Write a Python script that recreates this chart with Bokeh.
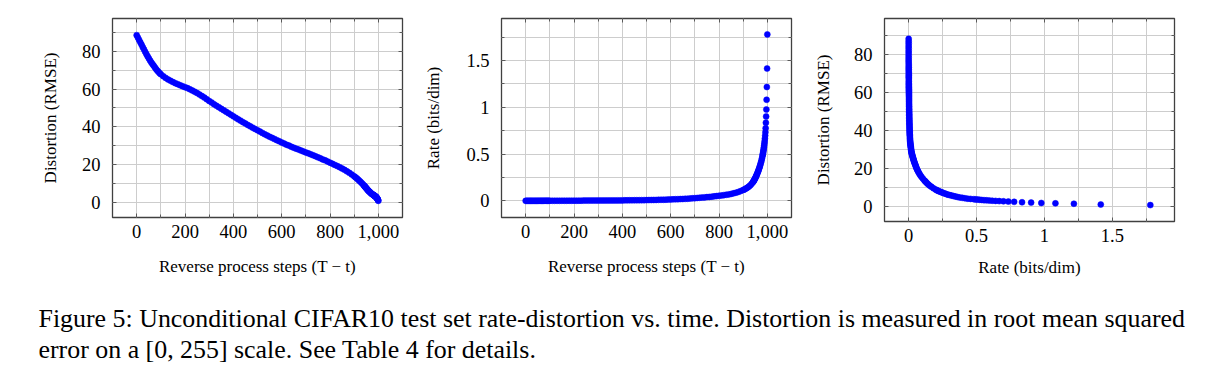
from bokeh.plotting import figure
from bokeh.layouts import row, column
from bokeh.models import (Range1d, FixedTicker, NumeralTickFormatter, LinearAxis,
                          CustomJSTickFormatter, Label)
from bokeh.embed import file_html
from bokeh.resources import INLINE

# ---------------- data ----------------
steps = [0, 5, 10, 15, 20, 25, 30, 35, 40, 45, 50, 55, 60, 65, 70, 75, 80, 85, 90, 95, 100,
         110, 120, 130, 140, 150, 160, 170, 180, 190, 200,
         210, 220, 230, 240, 250, 260, 270, 280, 290, 300,
         310, 320, 330, 340, 350, 360, 370, 380, 390, 400,
         410, 420, 430, 440, 450, 460, 470, 480, 490, 500,
         510, 520, 530, 540, 550, 560, 570, 580, 590, 600,
         610, 620, 630, 640, 650, 660, 670, 680, 690, 700,
         710, 720, 730, 740, 750, 760, 770, 780, 790, 800,
         810, 820, 830, 840, 850, 860, 870, 880, 890, 900,
         905, 910, 915, 920, 925, 930, 935, 940,
         942, 944, 946, 948, 950, 952, 954, 956, 958, 960,
         962, 964, 966, 968, 970, 972, 974, 976, 978, 980,
         981, 982, 983, 984, 985, 986, 987, 988, 989, 990,
         991, 992, 993, 994, 995, 996, 997, 998, 999, 1000]

distortion = [88.5, 87.2, 86.0, 84.7, 83.5, 82.2, 81.0, 79.7, 78.5, 77.4, 76.3,
              75.2, 74.2, 73.3, 72.4, 71.5, 70.6, 69.8, 69.1, 68.4, 67.8,
              66.8, 65.9, 65.1, 64.4, 63.7, 63.1, 62.6, 62.0, 61.5, 61.0,
              60.5, 59.9, 59.3, 58.6, 57.9, 57.1, 56.3, 55.5, 54.6, 53.7,
              52.9, 52.0, 51.2, 50.4, 49.6, 48.8, 48.0, 47.2, 46.4, 45.6,
              44.8, 44.0, 43.3, 42.5, 41.8, 41.0, 40.3, 39.6, 38.9, 38.2,
              37.5, 36.8, 36.1, 35.5, 34.8, 34.2, 33.6, 33.0, 32.4, 31.8,
              31.2, 30.6, 30.1, 29.5, 29.0, 28.5, 28.0, 27.5, 27.0, 26.5,
              26.0, 25.5, 25.0, 24.5, 23.9, 23.4, 22.8, 22.3, 21.7, 21.1,
              20.5, 19.9, 19.3, 18.7, 18.0, 17.3, 16.5, 15.7, 14.8, 13.9,
              13.4, 12.9, 12.3, 11.7, 11.1, 10.5, 9.8, 9.1,
              8.8, 8.5, 8.2, 7.9, 7.6, 7.3, 7.0, 6.7, 6.4, 6.15,
              5.9, 5.65, 5.4, 5.15, 4.9, 4.7, 4.5, 4.3, 4.15, 4.0,
              3.9, 3.8, 3.7, 3.6, 3.5, 3.4, 3.3, 3.2, 3.1, 3.0,
              2.9, 2.75, 2.6, 2.4, 2.2, 2.0, 1.8, 1.6, 1.2, 0.9]

rate = [0.0, 0.0, 0.0, 0.0, 0.0, 0.0, 0.0, 0.0, 0.0, 0.0, 0.0,
        0.0005, 0.0005, 0.0005, 0.0005, 0.0005, 0.001, 0.001, 0.001, 0.001, 0.001,
        0.001, 0.001, 0.001, 0.0012, 0.0014, 0.0015, 0.0016, 0.0018, 0.002, 0.002,
        0.0021, 0.0022, 0.0023, 0.0025, 0.0026, 0.0027, 0.0028, 0.003, 0.003, 0.0031,
        0.0033, 0.0035, 0.0037, 0.0039, 0.004, 0.0042, 0.0044, 0.0046, 0.0048, 0.005,
        0.0053, 0.0056, 0.0059, 0.0062, 0.0065, 0.0068, 0.0071, 0.0074, 0.0077, 0.008,
        0.0085, 0.009, 0.0095, 0.010, 0.0107, 0.0114, 0.012, 0.013, 0.014, 0.015,
        0.016, 0.017, 0.018, 0.019, 0.020, 0.0215, 0.023, 0.025, 0.027, 0.029,
        0.031, 0.033, 0.035, 0.037, 0.040, 0.042, 0.045, 0.048, 0.051, 0.054,
        0.057, 0.061, 0.065, 0.069, 0.074, 0.080, 0.087, 0.095, 0.105, 0.116,
        0.122, 0.129, 0.137, 0.146, 0.156, 0.168, 0.182, 0.198,
        0.206, 0.214, 0.223, 0.233, 0.243, 0.254, 0.265, 0.277, 0.289, 0.302,
        0.316, 0.330, 0.345, 0.360, 0.377, 0.395, 0.414, 0.434, 0.456, 0.480,
        0.493, 0.507, 0.522, 0.538, 0.555, 0.573, 0.593, 0.615, 0.640, 0.667,
        0.698, 0.734, 0.777, 0.835, 0.902, 0.977, 1.081, 1.217, 1.415, 1.780]

assert len(steps) == len(distortion) == len(rate), (len(steps), len(distortion), len(rate))

step_ticks = [0, 200, 400, 600, 800, 1000]
step_minor = [100, 300, 500, 700, 900]
dist_ticks = [0, 20, 40, 60, 80]
dist_minor = [10, 30, 50, 70, 90]
rate_ticks = [0, 0.5, 1, 1.5]
rate_minor = [0.25, 0.75, 1.25, 1.75]

label_x_steps = "Reverse process steps (T \u2212 t)"
label_dist = "Distortion (RMSE)"
label_rate = "Rate (bits/dim)"
caption_lines = [
    "Figure 5: Unconditional CIFAR10 test set rate-distortion vs. time. Distortion is measured in root mean squared",
    "error on a [0, 255] scale. See Table 4 for details.",
]

# ---------------- styling ----------------
SERIF = "Liberation Serif"
TICK_FS = "18.5px"
LABEL_FS = "17px"
FRAME = "#404040"
TICKC = "#5a5a5a"
GRIDC = "#cdcdcd"
BLUE = "#0000ff"
ROW_H = 300


def style_axis(ax, ticks, minor, fmt, show_labels=True):
    ax.ticker = FixedTicker(ticks=ticks, minor_ticks=minor)
    ax.axis_line_color = None
    ax.major_tick_in = 4
    ax.major_tick_out = 0
    ax.minor_tick_in = 3
    ax.minor_tick_out = 0
    ax.major_tick_line_color = TICKC
    ax.minor_tick_line_color = TICKC
    ax.major_tick_line_width = 1
    ax.minor_tick_line_width = 1
    if show_labels:
        ax.formatter = fmt
        ax.major_label_text_font = SERIF
        ax.major_label_text_font_size = TICK_FS
        ax.major_label_text_color = "black"
        ax.axis_label_text_font = SERIF
        ax.axis_label_text_font_size = LABEL_FS
        ax.axis_label_text_font_style = "normal"
        ax.axis_label_text_color = "black"
    else:
        ax.formatter = CustomJSTickFormatter(code="return ''")
        ax.major_label_standoff = 0
        ax.major_label_text_font_size = "0px"


def make_panel(x, y, xr, yr, xt, xm, yt, ym, xfmt, yfmt, xlabel, ylabel,
               border_left, frame_h, y_label_standoff, x_label_standoff):
    p = figure(frame_width=290, frame_height=frame_h,
               x_range=Range1d(*xr), y_range=Range1d(*yr),
               toolbar_location=None, output_backend="svg",
               min_border_left=border_left, min_border_right=19,
               min_border_top=18, min_border_bottom=ROW_H - 18 - frame_h)
    p.background_fill_color = "white"
    p.border_fill_color = "white"
    p.outline_line_color = FRAME
    p.outline_line_width = 1.3

    style_axis(p.xaxis[0], xt, xm, xfmt)
    style_axis(p.yaxis[0], yt, ym, yfmt)
    p.xaxis[0].axis_label = xlabel
    p.yaxis[0].axis_label = ylabel
    p.xaxis[0].major_label_standoff = 7
    p.yaxis[0].major_label_standoff = 12
    p.xaxis[0].axis_label_standoff = x_label_standoff
    p.yaxis[0].axis_label_standoff = y_label_standoff

    top = LinearAxis()
    style_axis(top, xt, xm, None, show_labels=False)
    p.add_layout(top, "above")
    right = LinearAxis()
    style_axis(right, yt, ym, None, show_labels=False)
    p.add_layout(right, "right")

    for g in (p.xgrid[0], p.ygrid[0]):
        g.grid_line_color = GRIDC
        g.grid_line_width = 1
        g.minor_grid_line_color = GRIDC
        g.minor_grid_line_width = 1

    p.scatter(x, y, size=6, marker="circle", fill_color=BLUE,
              line_color=BLUE, line_width=0.5)
    return p


fmt_steps = NumeralTickFormatter(format="0,0")
fmt_int = NumeralTickFormatter(format="0")
fmt_rate = NumeralTickFormatter(format="0.[0]")

step_range = (-100, 1100)
rate_range = (-0.178, 1.958)

p1 = make_panel(steps, distortion, step_range, (-7.9, 97.3),
                step_ticks, step_minor, dist_ticks, dist_minor,
                fmt_steps, fmt_int, label_x_steps, label_dist,
                border_left=112, frame_h=199,
                y_label_standoff=19, x_label_standoff=16)
p2 = make_panel(steps, rate, step_range, (-0.178, 1.95),
                step_ticks, step_minor, rate_ticks, rate_minor,
                fmt_steps, fmt_rate, label_x_steps, label_rate,
                border_left=80, frame_h=199,
                y_label_standoff=20, x_label_standoff=16)
p3 = make_panel(rate, distortion, rate_range, (-7.75, 99.2),
                rate_ticks, rate_minor, dist_ticks, dist_minor,
                fmt_rate, fmt_int, label_rate, label_dist,
                border_left=74, frame_h=203,
                y_label_standoff=18, x_label_standoff=13)

# ---------------- caption ----------------
CAP_W, CAP_H = 1193, 75
cap = figure(width=CAP_W, height=CAP_H, x_range=Range1d(0, CAP_W), y_range=Range1d(CAP_H, 0),
             x_axis_type=None, y_axis_type=None, toolbar_location=None,
             output_backend="svg", min_border=0)
cap.grid.visible = False
cap.outline_line_color = None
cap.border_fill_color = "white"
for i, line in enumerate(caption_lines):
    cap.add_layout(Label(x=38, y=18 + 31 * i, text=line, text_font=SERIF,
                         text_font_size="25.9px", text_color="black",
                         text_baseline="alphabetic", text_align="left"))

layout = column(row(p1, p2, p3), cap)

with open("out.html", "w") as f:
    f.write(file_html(layout, INLINE))
